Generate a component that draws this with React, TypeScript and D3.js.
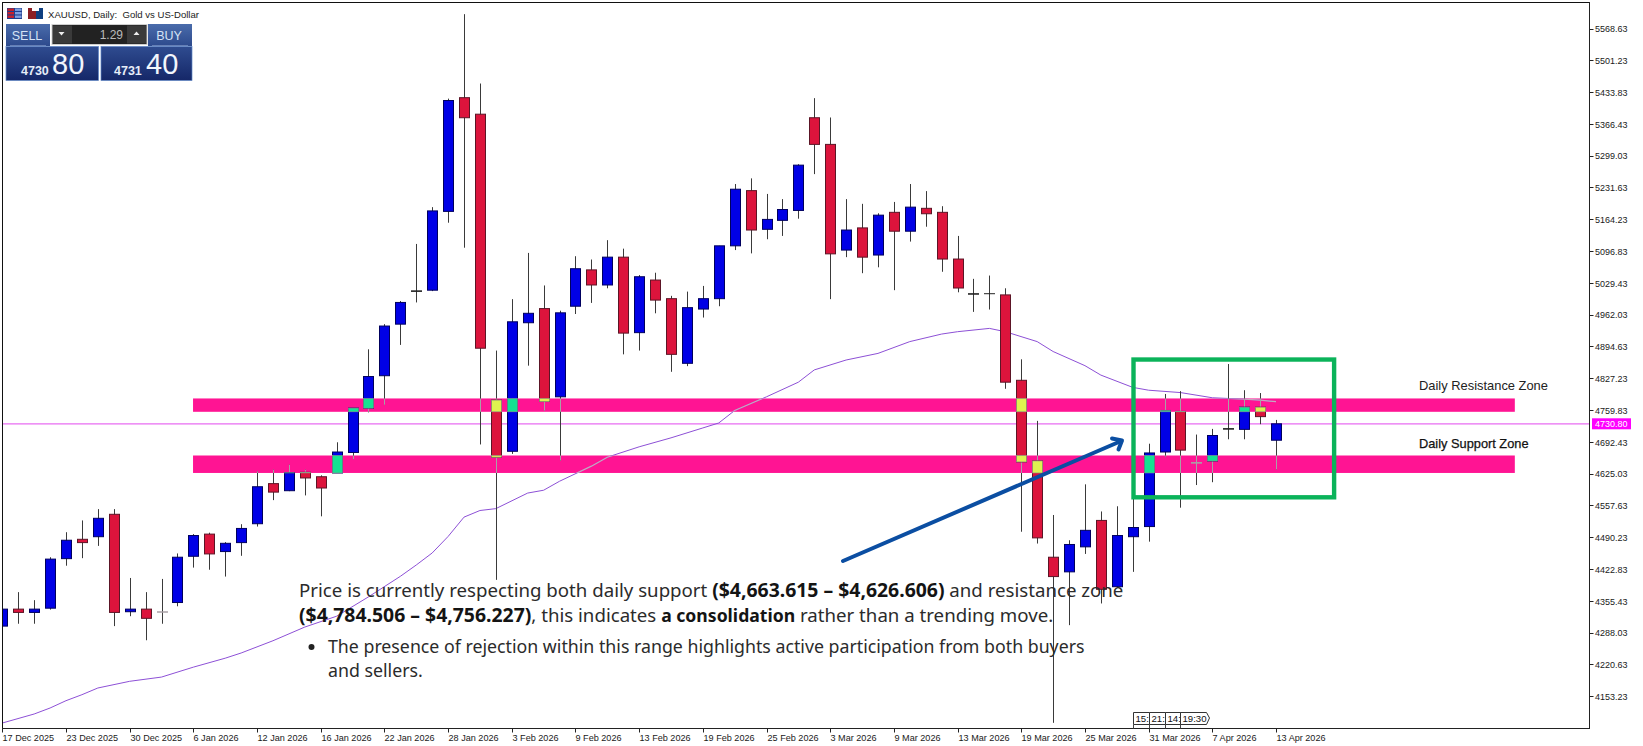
import React from "react";
import * as d3 from "d3";

const W = 1643, H = 746;

// Candles in chart order: one value per trading day
const opens = [4302,4338,4331,4340,4445,4486,4491.5,4539,4332.5,4338,4332,4352,4450,4497,4460,4479,4519,4604,4589,4628,4618.6,4626.5,4670,4764,4832.7,4942,5012,5014,5181,5422,5387,4781,4672.5,4945,4975,4788,4980,5057,5025,5084,4924,5035.5,4996,4859,4974,4996,5108,5225,5143,5162,5183,5379.5,5323,5099,5146,5088.5,5179,5139,5187.5,5179,5080,5006,5006.5,5004,4823,4652,4448,4417,4470,4526,4385.5,4491.5,4513,4671,4757,4648,4652,4720,4719,4766,4696];
const highs = [4342,4374,4357,4448,4501,4526,4550,4550,4404,4374,4402,4456,4497,4500,4480,4518,4630,4633.5,4644,4633.5,4621.6,4691.6,4764,4888.7,4942,4991,5112,5190,5420,5599,5452,4886,4995,5093,5024,4970.5,5086,5079,5120,5102,5046,5051,5002,5011,5023,5108,5239,5251,5218,5207,5281,5421,5380,5207,5197,5177,5201,5239,5224,5192,5129,5038,5045,5018,4867.5,4737,4537.5,4484,4602.5,4545,4556,4717.6,4688.6,4794,4800,4708,4720,4857.5,4802,4796,4739];
const lows = [4300,4307,4307,4337,4430,4446,4472,4302,4323,4272,4307,4344,4426,4421.5,4407,4451,4513,4569,4588,4579,4534.7,4626.5,4656,4755,4771,4898,4988,5012,5157,5104,4687,4400,4667,4854,4758.5,4653,4963.5,4987,5018,4878,4886,4965,4841,4853,4956,4980,5099,5092,5122,5129,5165.5,5260,4995,5084,5050,5062.5,5014,5117,5148.5,5053,5009.5,4968,4973,4805,4502,4477,4097,4304,4455,4350,4384,4417,4481,4661,4553,4601,4607,4698,4698,4730,4634];
const closes = [4338,4331,4338,4444,4484,4479,4530.5,4331,4338,4318.5,4332,4448,4494,4455,4477.5,4509,4597.4,4586,4627,4616,4594.7,4671,4764,4831,4938,4988,5012,5182,5416,5379.5,4891,4660,4947,4965,4778,4966,5059.5,5025,5084,4923,5042.5,4993,4878,4977,4996,5108,5228,5141.5,5164,5185,5279,5323,5091,5141.5,5084,5173,5139,5190,5176,5080,5018.6,5006,5006.5,4819,4650,4489,4407,4475,4505,4380,4494,4511,4669,4759,4675,4648,4706,4720,4766,4746,4730.8];

const maIndex = [0,2,3,4,5,6,8,10,12,14,15,17,19,21,23,25,26,27,28,29,30,31,33,34,35,37,38,40,42,44,45,46,48,50,51,53,55,57,59,60,62,63,65,66,68,69,71,72,74,76,78,79,80];
const maValues = [4096.6,4115.7,4128.4,4143.9,4156.6,4170.8,4185,4194,4215,4234,4245,4271,4300,4323,4364,4407.5,4431.5,4457,4492,4533,4547,4551,4584,4590,4609,4641,4660,4682,4701,4722,4732.5,4759,4788,4819,4845,4866,4880,4905,4921,4926,4933,4926,4905,4884,4854,4834,4808,4802,4797,4786,4783,4781,4777.6];

const priceTicks = ["5568.63","5501.23","5433.83","5366.43","5299.03","5231.63","5164.23","5096.83","5029.43","4962.03","4894.63","4827.23","4759.83","4692.43","4625.03","4557.63","4490.23","4422.83","4355.43","4288.03","4220.63","4153.23"];
const dateTicks = ["17 Dec 2025","23 Dec 2025","30 Dec 2025","6 Jan 2026","12 Jan 2026","16 Jan 2026","22 Jan 2026","28 Jan 2026","3 Feb 2026","9 Feb 2026","13 Feb 2026","19 Feb 2026","25 Feb 2026","3 Mar 2026","9 Mar 2026","13 Mar 2026","19 Mar 2026","25 Mar 2026","31 Mar 2026","7 Apr 2026","13 Apr 2026"];
const dateTickEvery = 4;

const lastPrice = 4730.8;
const zones = [
  { name: "Daily Resistance Zone", top: 4784.506, bottom: 4756.227 },
  { name: "Daily Support Zone", top: 4663.615, bottom: 4626.606 },
];
const zoneStartIndex = 11.98;
const zoneEndIndex = 95;
const focusBox = { fromIndex: 71.05, toIndex: 83.65, top: 4867, bottom: 4575 };
const countdown = ["15:", "21:", "14:", "19:30"];

const x = d3.scaleLinear().domain([0, 80]).range([2.3, 1276]);
const y = d3.scaleLinear().domain([4153.23, 5568.63]).range([696.3, 28.5]);

const BLUE = "#0000e6", RED = "#dc143c", PINK = "#ff1493";
const mono = "'Liberation Sans', Arial, sans-serif";
const canva = "'Noto Sans', sans-serif";

const maLine = d3.line<number>().x((_, i) => x(maIndex[i])).y((v) => y(v)).curve(d3.curveLinear)(maValues) || "";
const snap = (v: number) => Math.round(v);

function overlap(a0: number, a1: number, b0: number, b1: number) {
  const t = Math.max(a0, b0), b = Math.min(a1, b1);
  return b > t ? [t, b] : null;
}

export default function App() {
  const plotRight = 1589.5, plotBottom = 728.5;
  return (
    <div style={{ position: "absolute", left: 0, top: 0, width: W, height: H, overflow: "hidden", background: "#fff" }}>
      <svg width={W} height={H} viewBox={`0 0 ${W} ${H}`} style={{ display: "block" }}>
        <defs>
          <clipPath id="plot"><rect x={3} y={3} width={plotRight - 3} height={plotBottom - 3} /></clipPath>
          <clipPath id="zoneClip">
            {zones.map((z) => (
              <rect key={z.name} x={x(zoneStartIndex)} width={x(zoneEndIndex) - x(zoneStartIndex)} y={y(z.top)} height={y(z.bottom) - y(z.top)} />
            ))}
          </clipPath>
          <linearGradient id="panelHi" x1="0" y1="0" x2="0" y2="1"><stop offset="0" stopColor="#4a6cab" /><stop offset="1" stopColor="#2d4a8d" /></linearGradient>
          <linearGradient id="panelLo" x1="0" y1="0" x2="0" y2="1"><stop offset="0" stopColor="#2f4c90" /><stop offset="1" stopColor="#152768" /></linearGradient>
        </defs>
        <rect width={W} height={H} fill="#fff" />

        <g clipPath="url(#plot)">
          {zones.map((z) => (
            <rect key={z.name} x={x(zoneStartIndex)} width={x(zoneEndIndex) - x(zoneStartIndex)} y={y(z.top)} height={y(z.bottom) - y(z.top)} fill={PINK} />
          ))}
          <line x1={3} x2={plotRight} y1={y(lastPrice)} y2={y(lastPrice)} stroke="#e86cf2" strokeWidth={1.2} />
          <path d={maLine} fill="none" stroke="#8d50d6" strokeWidth={1} />
          <path d={maLine} fill="none" stroke="#c9a7bd" strokeWidth={1.2} clipPath="url(#zoneClip)" />

          {opens.map((o, i) => {
            const cx = snap(x(i)) + 0.5;
            const c = closes[i];
            const yTop = y(Math.max(o, c)), yBot = y(Math.min(o, c));
            const yH = y(highs[i]), yL = y(lows[i]);
            const doji = o === c;
            const up = c > o;
            const wickCol = "#3a3a3a";
            return (
              <g key={i}>
                <line x1={cx} x2={cx} y1={yH} y2={yL} stroke={wickCol} strokeWidth={1} />
                {zones.map((z) => {
                  const seg = overlap(yH, yL, y(z.top), y(z.bottom));
                  return seg ? <line key={z.name} x1={cx} x2={cx} y1={seg[0]} y2={seg[1]} stroke="#a9a0a6" strokeWidth={1} /> : null;
                })}
                {doji ? (
                  <line x1={cx - 5.5} x2={cx + 5.5} y1={yTop} y2={yTop} stroke={yTop > y(zones[1].top) ? "#a9a0a6" : "#222"} strokeWidth={i === 62 ? 1 : 1.6} />
                ) : (
                  <rect x={cx - 5} y={yTop} width={10} height={Math.max(yBot - yTop, 1.5)} fill={up ? BLUE : RED} stroke={up ? "#00005e" : "#5c1526"} strokeWidth={1} />
                )}
                {!doji && zones.map((z) => {
                  const seg = overlap(yTop, yBot, y(z.top), y(z.bottom));
                  return seg ? (
                    <rect key={z.name} x={cx - 5} y={seg[0]} width={10} height={seg[1] - seg[0]} fill={up ? "#14e391" : "#dff24f"} stroke="#8a9a8a" strokeWidth={0.6} />
                  ) : null;
                })}
              </g>
            );
          })}
        </g>

        {/* frame and axes */}
        <line x1={2.5} x2={2.5} y1={2} y2={plotBottom} stroke="#111" />
        <line x1={2} x2={plotRight} y1={2.5} y2={2.5} stroke="#111" />
        <line x1={plotRight} x2={plotRight} y1={2} y2={plotBottom + 0.5} stroke="#222" />
        <line x1={2} x2={plotRight} y1={plotBottom} y2={plotBottom} stroke="#222" />

        {priceTicks.map((t) => (
          <g key={t}>
            <line x1={plotRight} x2={plotRight + 4} y1={Math.round(y(+t)) + 0.5} y2={Math.round(y(+t)) + 0.5} stroke="#222" />
            <text x={1595} y={y(+t) + 3.6} fontFamily={mono} fontSize={9.6} fill="#1a1a1a" textLength={32.5} lengthAdjust="spacingAndGlyphs">{t}</text>
          </g>
        ))}
        {dateTicks.map((t, i) => {
          const tx = snap(x(i * dateTickEvery)) + 0.5;
          return (
            <g key={t}>
              <line x1={tx} x2={tx} y1={plotBottom} y2={plotBottom + 4} stroke="#222" />
              <text x={tx} y={740.5} fontFamily={mono} fontSize={9.1} fill="#1a1a1a">{t}</text>
            </g>
          );
        })}

        {/* last price tag */}
        <rect x={1592} y={y(lastPrice) - 5.5} width={39} height={11} fill="#ff00ff" />
        <text x={1595} y={y(lastPrice) + 3.6} fontFamily={mono} fontSize={9.6} fill="#fff" textLength={32.5} lengthAdjust="spacingAndGlyphs">{lastPrice.toFixed(2)}</text>

        {/* zone labels */}
        <text x={1419} y={390} fontFamily={mono} fontSize={12.9} fill="#222">{zones[0].name}</text>
        <text x={1419} y={448} fontFamily={mono} fontSize={12.8} fill="#111" stroke="#111" strokeWidth={0.25}>{zones[1].name}</text>

        {/* countdown */}
        <g fontFamily={mono} fontSize={9.6} fill="#111">
          {countdown.map((t, i) => {
            const bx = snap(x(71 + i)) + 0.5;
            const last = i === countdown.length - 1;
            return (
              <g key={t}>
                <path d={last ? `M${bx},712.5 H${bx + 26} L${bx + 29},718 L${bx + 26},724.5 H${bx} Z` : `M${bx},712.5 H${bx + 16} V724.5 H${bx} Z`} fill="#fff" stroke="#333" />
                <text x={bx + 2} y={722}>{t}</text>
                <line x1={bx} x2={bx} y1={724.5} y2={plotBottom} stroke="#444" />
              </g>
            );
          })}
        </g>

        {/* overlay: focus box and arrow */}
        <rect x={x(focusBox.fromIndex)} y={y(focusBox.top)} width={x(focusBox.toIndex) - x(focusBox.fromIndex)} height={y(focusBox.bottom) - y(focusBox.top)} fill="none" stroke="#0bb35a" strokeWidth={4.4} />
        <g stroke="#0b4ea2" strokeWidth={4} fill="none" strokeLinecap="round" strokeLinejoin="round">
          <line x1={843} y1={561} x2={1120} y2={441.5} />
          <path d="M1112,438.5 L1122,440.5 L1118.5,449.5" />
        </g>

        {/* overlay: commentary */}
        <g fontFamily={canva} fontSize={18.66} fill="#2b2b2b">
          <text x={299} y={597}>
            Price is currently respecting both daily support{" "}
            <tspan fontWeight={700} fill="#141414" fontSize={19.4}>($4,663.615 – $4,626.606)</tspan> and resistance zone
          </text>
          <text x={299} y={622}>
            <tspan fontWeight={700} fill="#141414" fontSize={19.4}>($4,784.506 – $4,756.227)</tspan>, this indicates{" "}
            <tspan fontWeight={700} fill="#141414" fontSize={17.6}>a consolidation</tspan> rather than a trending move.
          </text>
          <circle cx={311.5} cy={647} r={3} fill="#222" />
          <text x={328} y={653} fontSize={17.76}>The presence of rejection within this range highlights active participation from both buyers</text>
          <text x={328} y={677} fontSize={17.76}>and sellers.</text>
        </g>

        {/* title and trade panel */}
        <g>
          <rect x={7} y={8} width={15} height={11} fill="#1f3f8f" />
          <rect x={7.5} y={8.5} width={6.5} height={2.4} fill="#c8202a" />
          <rect x={7.5} y={12} width={6.5} height={2.4} fill="#c8202a" />
          <rect x={7.5} y={15.5} width={6.5} height={2.4} fill="#c8202a" />
          <rect x={15} y={8.5} width={6.5} height={2.4} fill="#7fa0e0" />
          <rect x={15} y={12} width={6.5} height={2.4} fill="#7fa0e0" />
          <rect x={15} y={15.5} width={6.5} height={2.4} fill="#7fa0e0" />
          <rect x={28} y={8} width={8} height={11} fill="#8c1f24" />
          <rect x={36} y={8} width={7} height={11} fill="#0f3f80" />
          <rect x={32} y={8} width={7} height={3} fill="#fff" />
          <text x={48} y={17.5} fontFamily={mono} fontSize={9.8} fill="#222" textLength={151} lengthAdjust="spacingAndGlyphs" xmlSpace="preserve">XAUUSD, Daily:  Gold vs US-Dollar</text>

          <rect x={6} y={24} width={44} height={22} fill="url(#panelHi)" />
          <rect x={148} y={24} width={44} height={22} fill="url(#panelHi)" />
          <rect x={52} y={24.5} width={95} height={20} fill="#222" stroke="#cfcfcf" />
          <rect x={53} y={25.5} width={19} height={18} fill="#3a3a3a" />
          <rect x={127} y={25.5} width={19} height={18} fill="#3a3a3a" />
          <path d="M58.5,32 h6 l-3,3.5 z M133.5,35 h6 l-3,-3.5 z" fill="#eee" />
          <text x={123} y={38.5} textAnchor="end" fontFamily={mono} fontSize={12} fill="#bbb">1.29</text>
          <text x={27} y={39.5} textAnchor="middle" fontFamily={mono} fontSize={12.5} fill="#d5e3f5">SELL</text>
          <text x={169} y={39.5} textAnchor="middle" fontFamily={mono} fontSize={12.5} fill="#d5e3f5">BUY</text>
          <line x1={10} x2={46} y1={46} y2={46} stroke="#9db4dc" />
          <line x1={152} x2={188} y1={46} y2={46} stroke="#9db4dc" />
          <rect x={6} y={46.5} width={92.5} height={34} fill="url(#panelLo)" stroke="#5f86c6" strokeWidth={0.7} />
          <rect x={101} y={46.5} width={91} height={34} fill="url(#panelLo)" stroke="#5f86c6" strokeWidth={0.7} />
          <text x={21} y={75} fontFamily={mono} fontSize={12.5} fontWeight={700} fill="#e6edf8">4730</text>
          <text x={52} y={74} fontFamily={mono} fontSize={29} fill="#f2f6fc">80</text>
          <text x={114} y={75} fontFamily={mono} fontSize={12.5} fontWeight={700} fill="#e6edf8">4731</text>
          <text x={146} y={74} fontFamily={mono} fontSize={29} fill="#f2f6fc">40</text>
        </g>
      </svg>
    </div>
  );
}
